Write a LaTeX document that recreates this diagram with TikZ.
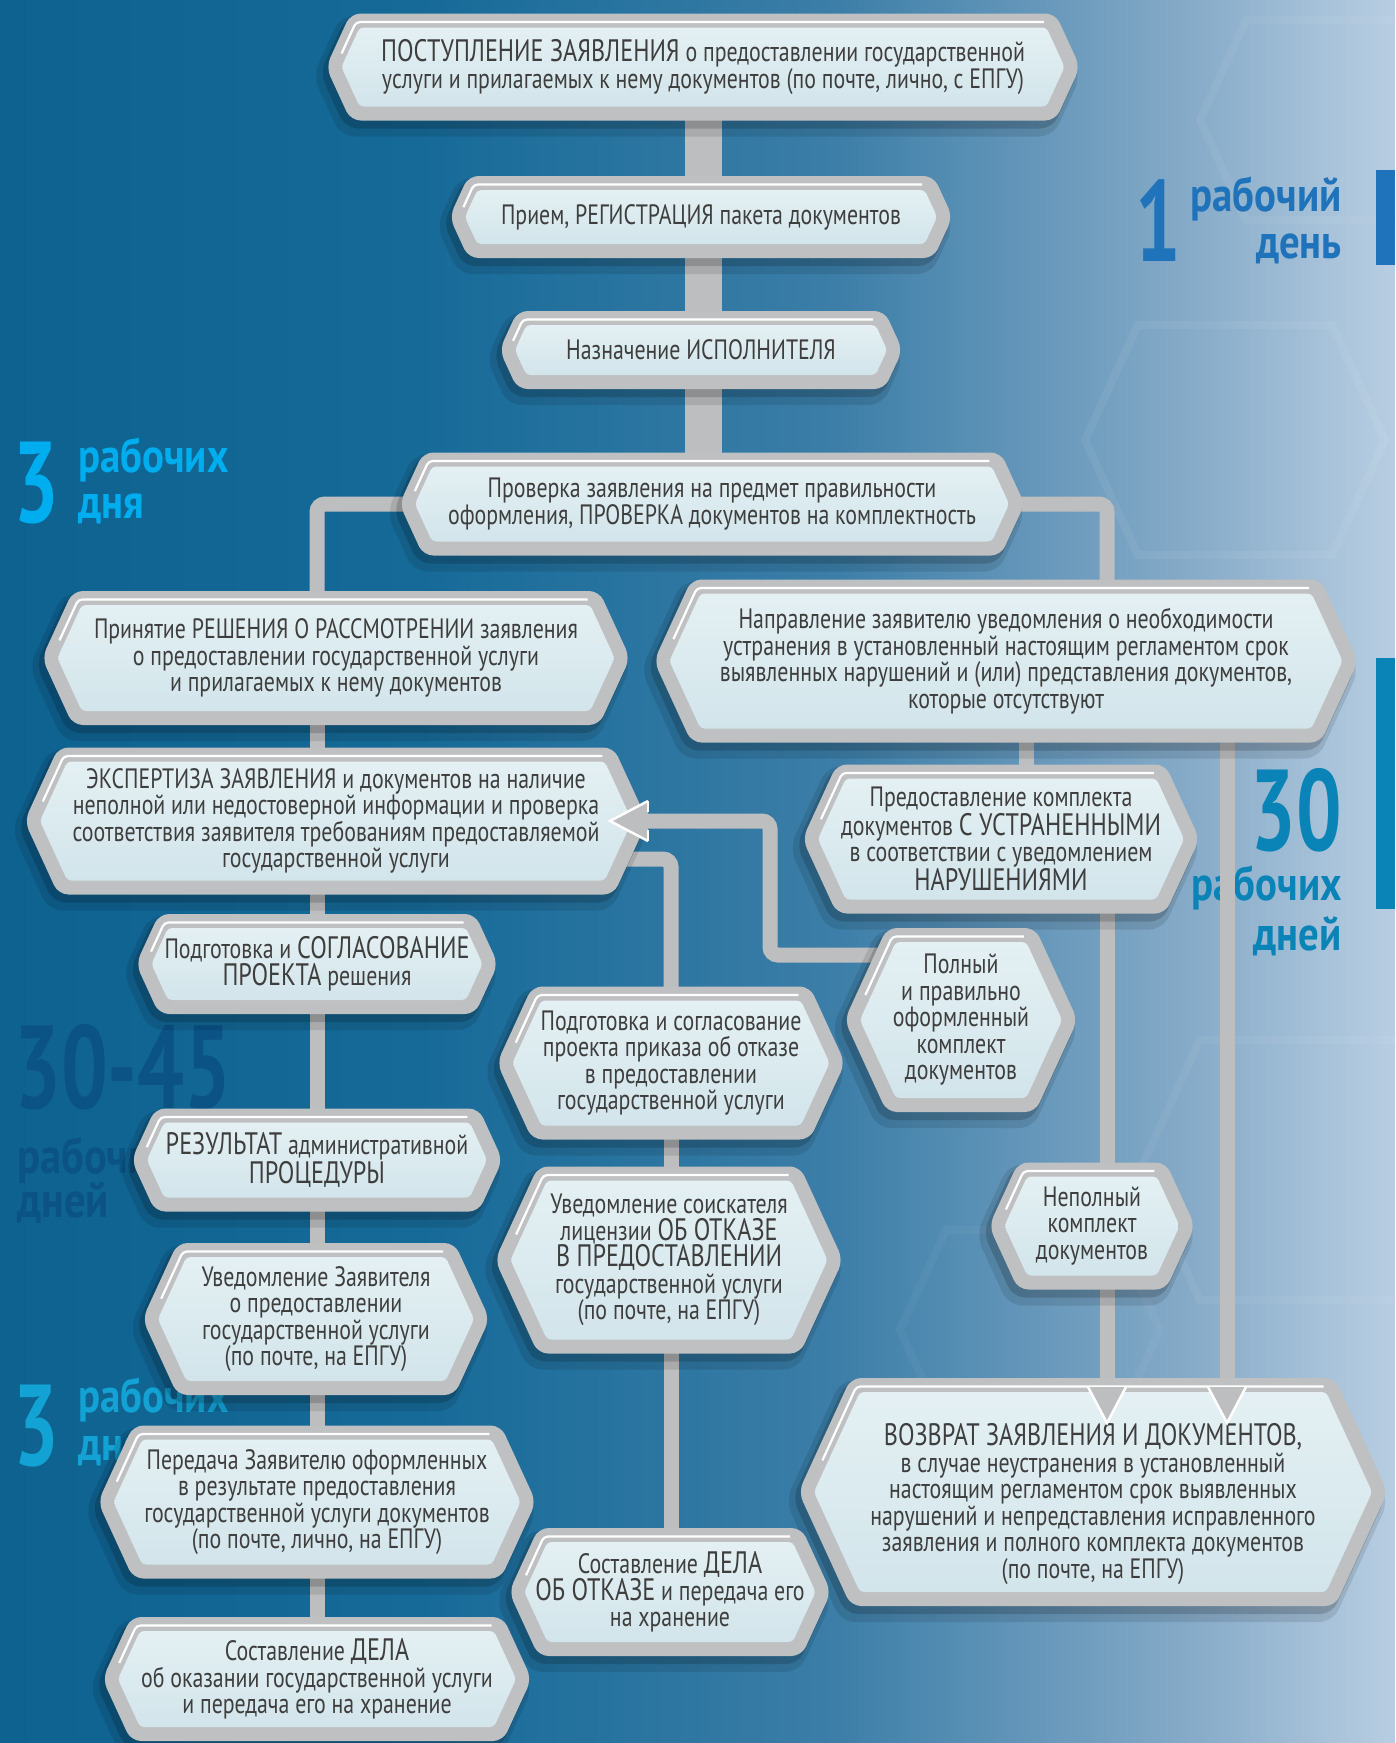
\documentclass[tikz,border=0pt]{standalone}
\usepackage{fontspec}
\setmainfont{PT Sans}[FakeStretch=0.78]
\newfontfamily\lblfont{PT Sans}[FakeStretch=0.85]
\newfontfamily\numfont{PT Sans}[FakeStretch=0.7]
\definecolor{bordergray}{HTML}{BFC0C2}
\definecolor{conngray}{HTML}{BDBEC0}
\definecolor{txtgray}{HTML}{3E3E3E}
\definecolor{fillA}{HTML}{E4F0F3}
\definecolor{fillB}{HTML}{D2E5EB}
\definecolor{bg0}{RGB}{14,98,144}
\definecolor{bg1}{RGB}{22,106,152}
\definecolor{bg2}{RGB}{60,126,168}
\definecolor{bg3}{RGB}{136,172,201}
\definecolor{bg4}{RGB}{184,206,226}
\definecolor{cyanA}{HTML}{00AEEF}
\definecolor{cyanB}{HTML}{13A2D4}
\definecolor{blueA}{HTML}{1F73BA}
\definecolor{blueB}{HTML}{0A84B6}
\definecolor{blueC}{HTML}{0B5285}
\pgfdeclarehorizontalshading{bgsh}{100bp}{color(0bp)=(bg0); color(25bp)=(bg0); color(40bp)=(bg1); color(55bp)=(bg2); color(68bp)=(bg3); color(75bp)=(bg4); color(100bp)=(bg4)}
\pgfdeclarelayer{bg}\pgfdeclarelayer{conn}\pgfdeclarelayer{fg}
\pgfsetlayers{bg,conn,main,fg}
\newcommand\hexcalc[5]{%
 \pgfmathsetmacro\hL{(#1)-(#3)/2+1.1*(#5)}%
 \pgfmathsetmacro\hR{(#1)+(#3)/2-1.1*(#5)}%
 \pgfmathsetmacro\hT{(#2)-(#4)/2+(#5)}%
 \pgfmathsetmacro\hB{(#2)+(#4)/2-(#5)}%
 \pgfmathsetmacro\hD{0.23*((#4)-2*(#5))}%
 \pgfmathsetmacro\hY{#2}}
\newcommand\hexfill[6]{\hexcalc{#2}{#3}{#4}{#5}{#6}%
 \path[#1] (\hL,\hY) -- ({\hL+\hD},\hT) -- ({\hR-\hD},\hT) -- (\hR,\hY) -- ({\hR-\hD},\hB) -- ({\hL+\hD},\hB) -- cycle;}
\newcommand\hexnode[7][]{%
 \hexfill{fill=black,opacity=0.10,rounded corners=14pt}{(#3)-6}{(#4)+9}{(#5)+14}{(#6)+14}{0}%
 \hexfill{fill=black,opacity=0.16,rounded corners=12pt}{(#3)-4}{(#4)+6}{(#5)+4}{(#6)+4}{0}%
 \hexfill{fill=bordergray,rounded corners=10pt}{#3}{#4}{#5}{#6}{0}%
 \hexfill{top color=fillA,bottom color=fillB,rounded corners=4pt}{#3}{#4}{#5}{#6}{14}%
 \hexcalc{#3}{#4}{#5}{#6}{8.5}%
 \draw[white,line width=2.2pt,rounded corners=4pt] ({\hL+0.3*\hD},{\hY-0.3*(\hY-\hT)}) -- ({\hL+\hD},\hT) -- ({\hR-\hD-6},\hT);%
 \node[txt,minimum width=#5pt,minimum height=#6pt,#1] (#2) at (#3,#4) {#7};}
\newcommand\Bg[1]{{\fontsize{31}{27}\selectfont #1}}
\begin{document}
\begin{tikzpicture}[x=1pt,y=-1pt,
  conn/.style={draw=conngray,line width=15pt,rounded corners=8pt},
  trunk/.style={draw=conngray,line width=37pt},
  txt/.style={inner sep=0pt,align=center,text=txtgray,font=\fontsize{28}{26.5}\selectfont},
  lbl/.style={inner sep=0pt},
  word/.style={inner sep=0pt,font=\lblfont\bfseries\fontsize{48}{48}\selectfont},
  num/.style={inner sep=0pt,font=\numfont\bfseries\fontsize{115}{115}\selectfont}]
\useasboundingbox (0,0) rectangle (1395,1743);
\begin{pgfonlayer}{bg}
\shade[shading=bgsh] (0,0) rectangle (1395,1743);
\hexfill{draw=white,opacity=0.06,line width=8pt}{1235}{440}{300}{230}{0}
\hexfill{draw=white,opacity=0.05,line width=8pt}{1330}{120}{260}{200}{0}
\hexfill{draw=white,opacity=0.05,line width=8pt}{1300}{1170}{320}{260}{0}
\hexfill{draw=white,opacity=0.04,line width=8pt}{1030}{1330}{260}{200}{0}
% time labels
\node[num,text=blueA,anchor=base west] (t1a) at (1135,261) {1};
\node[word,text=blueA,anchor=base east] (t1b) at (1342,211) {рабочий};
\node[word,text=blueA,anchor=base east] (t1c) at (1342,258) {день};
\fill[blueA] (1376,170) rectangle (1395,265);
\node[num,text=cyanA,anchor=base west] (t2a) at (13,522) {3};
\node[word,text=cyanA,anchor=base west] (t2b) at (78,472) {рабочих};
\node[word,text=cyanA,anchor=base west] (t2c) at (78,518) {дня};
\node[num,text=blueB,anchor=base east] (t3a) at (1342,850) {30};
\node[word,text=blueB,anchor=base east] (t3b) at (1342,900) {рабочих};
\node[word,text=blueB,anchor=base east] (t3c) at (1342,950) {дней};
\fill[blueB] (1376,658) rectangle (1395,909);
\node[num,text=blueC,font=\numfont\bfseries\fontsize{118}{118}\selectfont,anchor=base west] (t4a) at (14,1108) {30-45};
\node[word,text=blueC,font=\lblfont\bfseries\fontsize{50}{50}\selectfont,anchor=base west] (t4b) at (17,1173) {рабочих};
\node[word,text=blueC,font=\lblfont\bfseries\fontsize{50}{50}\selectfont,anchor=base west] (t4c) at (17,1217) {дней};
\node[num,text=cyanB,anchor=base west] (t5a) at (13,1465) {3};
\node[word,text=cyanB,anchor=base west] (t5b) at (78,1412) {рабочих};
\node[word,text=cyanB,anchor=base west] (t5c) at (78,1460) {дня};
\end{pgfonlayer}

\hexnode{n1}{703}{67}{754}{107}{\Bg{ПОСТУПЛЕНИЕ ЗАЯВЛЕНИЯ} о предоставлении государственной\\услуги и прилагаемых к нему документов (по почте, лично, с ЕПГУ)}
\hexnode{n2}{701}{217}{503}{82}{Прием, РЕГИСТРАЦИЯ пакета документов}
\hexnode{n3}{701}{350}{403}{78}{Назначение ИСПОЛНИТЕЛЯ}
\hexnode{n4}{712}{504}{625}{103}{Проверка заявления на предмет правильности\\оформления, ПРОВЕРКА документов на комплектность}
\hexnode{n5}{336}{658}{588}{134}{Принятие РЕШЕНИЯ О РАССМОТРЕНИИ заявления\\о предоставлении государственной услуги\\и прилагаемых к нему документов}
\hexnode{n6}{1006}{661}{704}{163}{Направление заявителю уведомления о необходимости\\устранения в установленный настоящим регламентом срок\\выявленных нарушений и (или) представления документов,\\которые отсутствуют}
\hexnode{n7}{336}{821}{623}{147}{ЭКСПЕРТИЗА ЗАЯВЛЕНИЯ и документов на наличие\\неполной или недостоверной информации и проверка\\соответствия заявителя требованиям предоставляемой\\государственной услуги}
\hexnode{n8}{1001}{839}{397}{149}{Предоставление комплекта\\документов \Bg{С УСТРАНЕННЫМИ}\\в соответствии с уведомлением\\\Bg{НАРУШЕНИЯМИ}}
\hexnode{n9}{317}{964}{362}{100}{Подготовка и \Bg{СОГЛАСОВАНИЕ}\\\Bg{ПРОЕКТА} решения}
\hexnode{n10}{961}{1020}{233}{184}{Полный\\и правильно\\оформленный\\комплект\\документов}
\hexnode{n11}{671}{1063}{348}{153}{Подготовка и согласование\\проекта приказа об отказе\\в предоставлении\\государственной услуги}
\hexnode{n12}{317}{1160}{371}{103}{\Bg{РЕЗУЛЬТАТ} административной\\\Bg{ПРОЦЕДУРЫ}}
\hexnode{n13}{1092}{1226}{206}{127}{Неполный\\комплект\\документов}
\hexnode{n14}{669}{1260}{348}{187}{Уведомление соискателя\\лицензии \Bg{ОБ ОТКАЗЕ}\\\Bg{В ПРЕДОСТАВЛЕНИИ}\\государственной услуги\\(по почте, на ЕПГУ)}
\hexnode{n15}{316}{1319}{347}{152}{Уведомление Заявителя\\о предоставлении\\государственной услуги\\(по почте, на ЕПГУ)}
\hexnode[yshift=-12pt]{n16}{1093}{1492}{589}{228}{\Bg{ВОЗВРАТ ЗАЯВЛЕНИЯ И ДОКУМЕНТОВ,}\\в случае неустранения в установленный\\настоящим регламентом срок выявленных\\нарушений и непредставления исправленного\\заявления и полного комплекта документов\\(по почте, на ЕПГУ)}
\hexnode{n17}{317}{1502}{438}{153}{Передача Заявителю оформленных\\в результате предоставления\\государственной услуги документов\\(по почте, лично, на ЕПГУ)}
\hexnode{n18}{670}{1592}{322}{128}{Составление \Bg{ДЕЛА}\\\Bg{ОБ ОТКАЗЕ} и передача его\\на хранение}
\hexnode{n19}{317}{1679}{429}{124}{Составление \Bg{ДЕЛА}\\об оказании государственной услуги\\и передача его на хранение}

\coordinate (cL) at (317,0);
\coordinate (cR1) at (1107,0);
\coordinate (cR2) at (1227,0);
\coordinate (cM) at (1026,0);
\coordinate (j2) at (0,955);
\coordinate (j1) at (770,821);
\coordinate (a1) at (1107,1392);
\coordinate (a2) at (1227,1392);
\coordinate (a3) at (646,821);

\begin{pgfonlayer}{conn}
\draw[trunk] (n1.center) -- (n1.center |- n4.center);
\draw[conn] (n4.center) -| (cL |- n5.center);
\draw[conn] (cL |- n5.center) -- (cL |- n19.center);
\draw[conn] (n4.center) -| (cR1 |- n6.center);
\draw[conn] (cM |- n6.center) -- (cM |- n8.center);
\draw[conn] (cR2 |- n6.center) -- (a2);
\draw[conn] (cR1 |- n8.center) -- (a1);
\draw[conn] (n10.center |- j2) -| (j1) -- (a3);
\draw[conn] ([yshift=-38pt]n7.center) -| (n11.center);
\draw[conn] (n11.center) -- (n11.center |- n18.center);
\end{pgfonlayer}

\begin{pgfonlayer}{fg}
\fill[conngray] (1088,1387) -- (1107,1423) -- (1126,1387) -- cycle;
\draw[white,line width=2.5pt] (1088,1387) -- (1107,1423) -- (1126,1387);
\fill[conngray] (1208,1387) -- (1227,1423) -- (1246,1387) -- cycle;
\draw[white,line width=2.5pt] (1208,1387) -- (1227,1423) -- (1246,1387);
\fill[conngray] (648,801) -- (610,821) -- (648,841) -- cycle;
\draw[white,line width=2.5pt] (648,801) -- (610,821) -- (648,841);
\draw[white,line width=2.5pt] (648,801) -- (648,812) (648,830) -- (648,841);
\end{pgfonlayer}
\end{tikzpicture}
\end{document}
